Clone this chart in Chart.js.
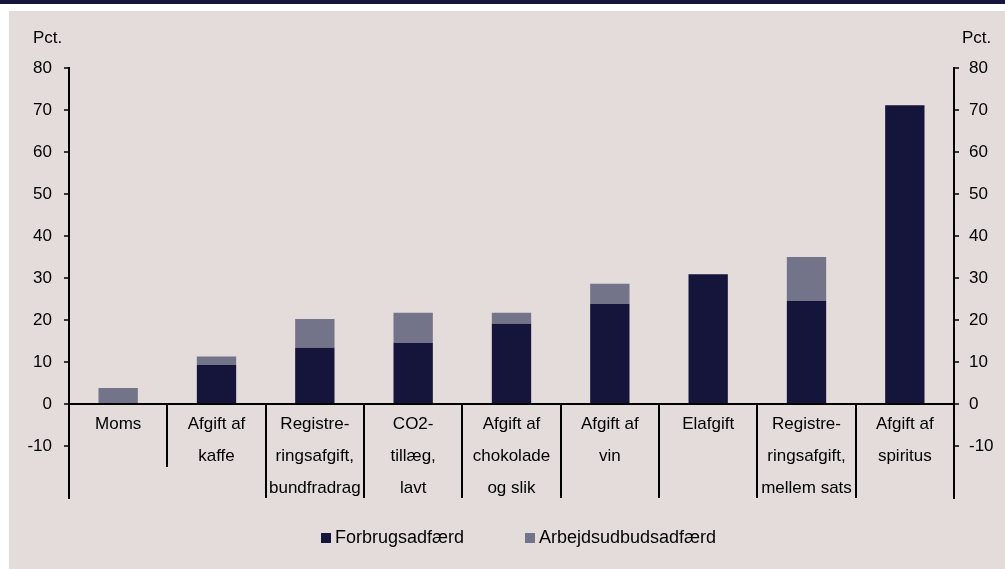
<!DOCTYPE html>
<html>
<head>
<meta charset="utf-8">
<script src="https://cdn.jsdelivr.net/npm/chart.js@4"></script>
<style>
  html, body { margin: 0; padding: 0; background: #fff; }
  canvas { display: block; }
</style>
</head>
<body>
<canvas id="chart" width="1005" height="569"></canvas>
<script>
// afgifter, hver kategori som linjer
const kategorier = [
  ['Moms'],
  ['Afgift af', 'kaffe'],
  ['Registre-', 'ringsafgift,', 'bundfradrag'],
  ['CO2-', 'tillæg,', 'lavt'],
  ['Afgift af', 'chokolade', 'og slik'],
  ['Afgift af', 'vin'],
  ['Elafgift'],
  ['Registre-', 'ringsafgift,', 'mellem sats'],
  ['Afgift af', 'spiritus']
];
const forbrug = [0, 9.3, 13.4, 14.5, 19.1, 23.8, 30.9, 24.5, 71.1];
const arbejdsudbud = [3.8, 2.0, 6.8, 7.2, 2.6, 4.8, 0, 10.5, 0];
const yTicks = [-10, 0, 10, 20, 30, 40, 50, 60, 70, 80];

const FONT = '"Liberation Sans", Arial, sans-serif';
const MOERK = '#15153b';
const GRAA = '#737389';

const baggrund = {
  id: 'baggrund',
  beforeDraw(chart) {
    const c = chart.ctx;
    c.save();
    c.fillStyle = '#fff';
    c.fillRect(0, 0, chart.width, chart.height);
    c.fillStyle = MOERK;
    c.fillRect(0, 0, chart.width, 4);
    c.fillStyle = '#e3dcda';
    c.fillRect(9, 11, chart.width - 9, chart.height - 11);
    c.restore();
  }
};

// kategoritekster under nul-linjen, skillelinjer og forklaring
const kategoriAkse = {
  id: 'kategoriAkse',
  afterDraw(chart) {
    const { ctx, chartArea } = chart;
    const x = chart.scales.x, y = chart.scales.y;
    const y0 = y.getPixelForValue(0);
    ctx.save();
    ctx.strokeStyle = '#000';
    ctx.lineWidth = 2;
    for (let i = 1; i < kategorier.length; i++) {
      const xs = Math.round((x.getPixelForValue(i - 1) + x.getPixelForValue(i)) / 2);
      const bund = i === 1 ? y.getPixelForValue(-15) : chartArea.bottom;
      ctx.beginPath();
      ctx.moveTo(xs, y0);
      ctx.lineTo(xs, bund);
      ctx.stroke();
    }
    ctx.fillStyle = '#000';
    ctx.font = '17px ' + FONT;
    ctx.textAlign = 'center';
    ctx.textBaseline = 'middle';
    kategorier.forEach((linjer, i) => {
      const xc = x.getPixelForValue(i);
      linjer.forEach((t, k) => ctx.fillText(t, xc, y0 + 20 + k * 32));
    });

    ctx.textAlign = 'left';
    ctx.fillText('Pct.', 33, 38);
    ctx.fillText('Pct.', 962, 38);

    // forklaring
    ctx.font = '18px ' + FONT;
    const ds = chart.data.datasets;
    let xl = 321;
    ds.forEach(d => {
      ctx.fillStyle = d.backgroundColor;
      ctx.fillRect(xl, 533, 10, 10);
      ctx.fillStyle = '#000';
      ctx.fillText(d.label, xl + 14, 538);
      xl += 204;
    });
    ctx.restore();
  }
};

function yAkse(side, bredde, pad) {
  return {
    position: side,
    stacked: true,
    min: -22.4,
    max: 80,
    afterBuildTicks: s => { s.ticks = yTicks.map(v => ({ value: v })); },
    afterFit: s => { s.width = bredde; },
    grid: {
      drawOnChartArea: side === 'left',
      color: c => (c.tick && c.tick.value === 0) ? '#000' : 'rgba(0,0,0,0)',
      lineWidth: 2,
      tickLength: 5,
      tickColor: '#000',
      tickWidth: 1.5
    },
    border: { color: '#000', width: 2 },
    ticks: { color: '#000', font: { family: FONT, size: 17 }, padding: pad }
  };
}

new Chart(document.getElementById('chart'), {
  type: 'bar',
  data: {
    labels: kategorier,
    datasets: [
      { label: 'Forbrugsadfærd', data: forbrug, backgroundColor: MOERK, yAxisID: 'y' },
      { label: 'Arbejdsudbudsadfærd', data: arbejdsudbud, backgroundColor: GRAA, yAxisID: 'y' }
    ]
  },
  options: {
    responsive: false,
    animation: false,
    barPercentage: 0.4,
    categoryPercentage: 1,
    layout: { padding: { top: 68, bottom: 71, left: 0, right: 0 } },
    plugins: { legend: { display: false }, tooltip: { enabled: false } },
    scales: {
      x: { stacked: true, display: false },
      y: yAkse('left', 69, 12),
      y2: yAkse('right', 51, 10)
    }
  },
  plugins: [baggrund, kategoriAkse]
});
</script>
</body>
</html>
